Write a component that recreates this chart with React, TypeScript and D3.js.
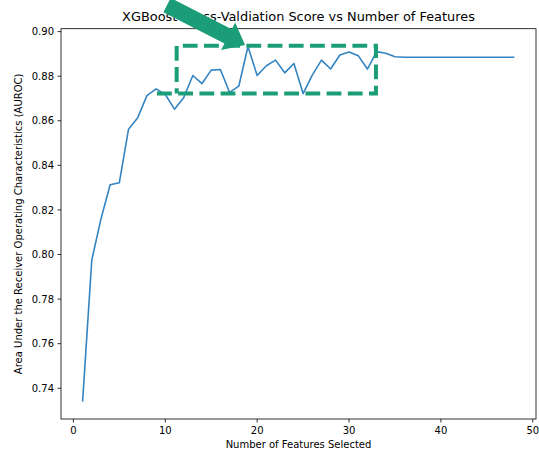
import React from "react";
import * as d3 from "d3";

const featureCounts = [
  1, 2, 3, 4, 5, 6, 7, 8, 9, 10, 11, 12, 13, 14, 15, 16, 17, 18, 19, 20, 21, 22, 23, 24,
  25, 26, 27, 28, 29, 30, 31, 32, 33, 34, 35, 36, 37, 38, 39, 40, 41, 42, 43, 44, 45, 46, 47, 48,
];
const aurocScores = [
  0.734, 0.7975, 0.816, 0.8313, 0.8322, 0.8562, 0.8614, 0.8713, 0.8743, 0.8718, 0.8652, 0.8703,
  0.8803, 0.8767, 0.8827, 0.883, 0.8727, 0.8755, 0.8933, 0.8803, 0.8847, 0.8872, 0.8815, 0.8857,
  0.8722, 0.8805, 0.8872, 0.8832, 0.8895, 0.8908, 0.8892, 0.8832, 0.891, 0.8903, 0.8887, 0.8885,
  0.8885, 0.8885, 0.8885, 0.8885, 0.8885, 0.8885, 0.8885, 0.8885, 0.8885, 0.8885, 0.8885, 0.8885,
];
const xTicks = [0, 10, 20, 30, 40, 50];
const yTicks = [0.74, 0.76, 0.78, 0.8, 0.82, 0.84, 0.86, 0.88, 0.9];

// annotation box (data coords): bottom edge extends further left than the left edge
const boxBottomLeftX = 9.1;
const boxLeftX = 11.24;
const boxRightX = 32.93;
const boxTopY = 0.8937;
const boxBottomY = 0.8722;
// arrow (data coords)
const arrowTail = [10.19, 0.9119];
const arrowTip = [18.68, 0.894];

const W = 539;
const H = 453;
const left = 61;
const right = 536;
const top = 28.7;
const bottom = 419;
const font = "DejaVu Sans, sans-serif";
const green = "#1b9e77";

export default function App() {
  const x = d3.scaleLinear().domain([-1.35, 50.35]).range([left, right]);
  const y = d3.scaleLinear().domain([0.7262, 0.9013]).range([bottom, top]);

  const line = d3
    .line<number>()
    .x((_, i) => x(featureCounts[i]))
    .y((d) => y(d));

  const boxPath = d3.path();
  boxPath.moveTo(x(boxBottomLeftX), y(boxBottomY));
  boxPath.lineTo(x(boxRightX), y(boxBottomY));
  boxPath.lineTo(x(boxRightX), y(boxTopY));
  boxPath.lineTo(x(boxLeftX), y(boxTopY));
  boxPath.lineTo(x(boxLeftX), y(boxBottomY));

  // arrow polygon
  const tx = x(arrowTail[0]);
  const ty = y(arrowTail[1]);
  const px = x(arrowTip[0]);
  const py = y(arrowTip[1]);
  const len = Math.hypot(px - tx, py - ty);
  const dx = (px - tx) / len;
  const dy = (py - ty) / len;
  const nx = -dy;
  const ny = dx;
  const shaftW = 16;
  const headW = 31;
  const headL = 19;
  const bx = px - dx * headL;
  const by = py - dy * headL;
  const arrowPts = [
    [tx + nx * shaftW / 2, ty + ny * shaftW / 2],
    [bx + nx * shaftW / 2, by + ny * shaftW / 2],
    [bx + nx * headW / 2, by + ny * headW / 2],
    [px, py],
    [bx - nx * headW / 2, by - ny * headW / 2],
    [bx - nx * shaftW / 2, by - ny * shaftW / 2],
    [tx - nx * shaftW / 2, ty - ny * shaftW / 2],
  ]
    .map((p) => p.join(","))
    .join(" ");

  return (
    <svg
      width={W}
      height={H}
      style={{ position: "absolute", left: 0, top: 0, background: "#fff" }}
      fontFamily={font}
    >
      <rect x={0} y={0} width={W} height={H} fill="#fff" />
      <text x={(left + right) / 2} y={21} fontSize={12.9} textAnchor="middle" fill="#000">
        XGBoost Cross-Valdiation Score vs Number of Features
      </text>
      <path d={line(aurocScores) || ""} fill="none" stroke="#3384c2" strokeWidth={1.6} strokeLinejoin="round" />
      <rect x={left} y={top} width={right - left} height={bottom - top} fill="none" stroke="#000" strokeWidth={0.8} />
      {xTicks.map((t) => (
        <g key={"x" + t}>
          <line x1={x(t)} x2={x(t)} y1={bottom} y2={bottom + 3.5} stroke="#000" strokeWidth={0.8} />
          <text x={x(t)} y={bottom + 15} fontSize={10} textAnchor="middle" fill="#000">
            {t}
          </text>
        </g>
      ))}
      {yTicks.map((t) => (
        <g key={"y" + t}>
          <line x1={left - 3.5} x2={left} y1={y(t)} y2={y(t)} stroke="#000" strokeWidth={0.8} />
          <text x={left - 7} y={y(t) + 3.6} fontSize={10} textAnchor="end" fill="#000">
            {t.toFixed(2)}
          </text>
        </g>
      ))}
      <text x={(left + right) / 2} y={448} fontSize={10} textAnchor="middle" fill="#000">
        Number of Features Selected
      </text>
      <text
        transform={`translate(22,${(top + bottom) / 2}) rotate(-90)`}
        fontSize={10}
        textAnchor="middle"
        fill="#000"
      >
        Area Under the Receiver Operating Characteristics (AUROC)
      </text>
      <path d={boxPath.toString()} fill="none" stroke={green} strokeWidth={4} strokeDasharray="14.8 6.4" />
      <polygon points={arrowPts} fill={green} />
    </svg>
  );
}
